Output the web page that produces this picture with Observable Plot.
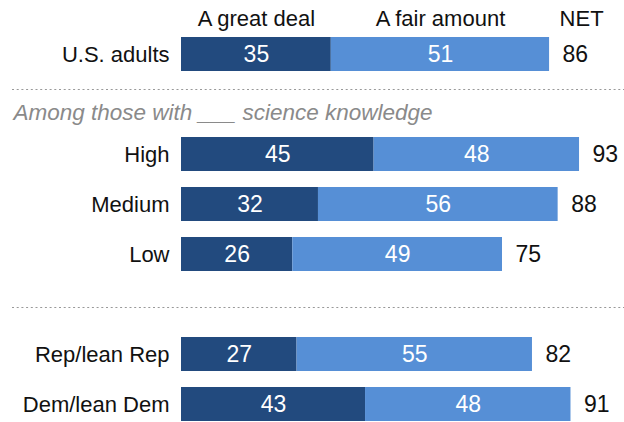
<!DOCTYPE html>
<html>
<head>
<meta charset="utf-8">
<script src="https://cdn.jsdelivr.net/npm/d3@7"></script>
<script src="https://cdn.jsdelivr.net/npm/@observablehq/plot@0.6"></script>
<style>
  html, body { margin: 0; padding: 0; background: #fff; }
  #chart svg { display: block; font-family: "Liberation Sans", Arial, sans-serif; }
</style>
</head>
<body>
<div id="chart"></div>
<script>
// Data
const groups = ["U.S. adults", "High", "Medium", "Low", "Rep/lean Rep", "Dem/lean Dem"];
const categories = ["A great deal", "A fair amount"];
const greatDeal = [35, 45, 32, 26, 27, 43];
const fairAmount = [51, 48, 56, 49, 55, 48];
const net = [86, 93, 88, 75, 82, 91];
const sectionLabel = "Among those with ___ science knowledge";
const netLabel = "NET";

// Row order including spacer rows
const rowOrder = ["U.S. adults", "gap1", "High", "Medium", "Low", "gap2", "Rep/lean Rep", "Dem/lean Dem"];

const long = [];
groups.forEach((g, i) => {
  long.push({group: g, cat: categories[0], value: greatDeal[i]});
  long.push({group: g, cat: categories[1], value: fairAmount[i]});
});
const netData = groups.map((g, i) => ({group: g, net: net[i]}));
const headers = [
  {label: categories[0], x: greatDeal[0] / 2},
  {label: categories[1], x: greatDeal[0] + fairAmount[0] / 2}
];

const dark = "#224A7E";
const light = "#568FD6";
const fs = 22;
const nfs = 23;

const chart = Plot.plot({
  width: 624,
  height: 422,
  marginLeft: 12,
  marginRight: 0,
  marginTop: 0,
  marginBottom: 0,
  x: {domain: [0, 100], range: [181, 609], axis: null},
  y: {domain: rowOrder, range: [36.5, 420.5], paddingInner: 0.33, paddingOuter: 0, axis: null},
  color: {domain: categories, range: [dark, light]},
  style: {fontSize: fs + "px", fontFamily: "Liberation Sans, Arial, sans-serif", overflow: "visible"},
  marks: [
    Plot.ruleY(["gap1"], {stroke: "#999", strokeDasharray: "2,2.7", strokeWidth: 1.2, dy: -15}),
    Plot.ruleY(["gap2"], {stroke: "#999", strokeDasharray: "2,2.7", strokeWidth: 1.2, dy: 3}),
    Plot.text([sectionLabel], {y: () => "gap1", frameAnchor: "left", textAnchor: "start", dx: 1, dy: 8, fill: "#8a8a8a", fontStyle: "italic", fontSize: 22.5, text: d => d}),
    Plot.barX(long, {x: "value", y: "group", fill: "cat", z: "cat", order: categories}),
    Plot.text(long, Plot.stackX({x: "value", y: "group", z: "cat", text: d => String(d.value), fill: "white", order: categories, fontSize: nfs})),
    Plot.text(netData, {x: "net", y: "group", text: d => String(d.net), textAnchor: "start", dx: 13, fill: "#111", fontSize: nfs}),
    Plot.text(groups, {y: d => d, text: d => d, frameAnchor: "left", textAnchor: "end", dx: 157, fill: "#111", fontSize: fs}),
    Plot.text(headers, {x: "x", y: () => "U.S. adults", text: "label", dy: -36, fill: "#111", fontSize: fs}),
    Plot.text([netLabel], {x: () => net[0], y: () => "U.S. adults", text: d => d, textAnchor: "start", dx: 10, dy: -36, fill: "#111", fontSize: fs})
  ]
});
document.getElementById("chart").appendChild(chart);
</script>
</body>
</html>
